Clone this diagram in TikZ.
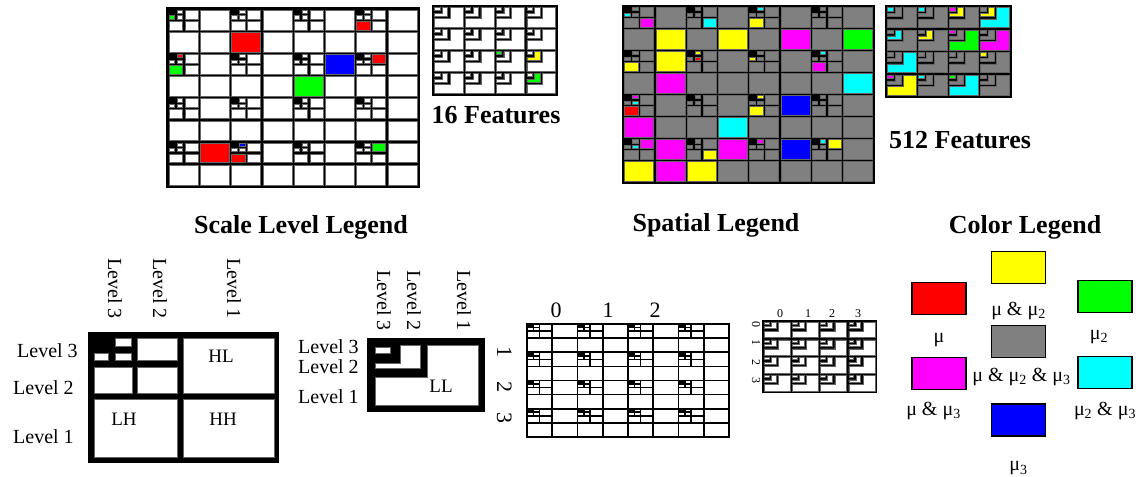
\documentclass[tikz,border=0pt]{standalone}
\usepackage{fontspec}
\setmainfont{Liberation Serif}
\usetikzlibrary{positioning}
\definecolor{mgray}{RGB}{128,128,128}
\definecolor{pred}{RGB}{255,0,0}
\definecolor{pgreen}{RGB}{0,255,0}
\definecolor{pblue}{RGB}{0,0,255}
\definecolor{pyellow}{RGB}{255,255,0}
\definecolor{pmagenta}{RGB}{255,0,255}
\definecolor{pcyan}{RGB}{0,255,255}
% gap left black between two bands
\newcommand{\gp}{1.2}
% one rectangular band: x, y, width, height, colour
\newcommand{\band}[5]{\path[band, fill=#5] ({#1+\gp},{#2+\gp}) rectangle ({#1+(#3)-\gp},{#2+(#4)-\gp});}
% one L-shaped band: the box x, y, w, h without its top-left quarter
\newcommand{\lband}[5]{\path[band, fill=#5] ({#1+(#3)/2+\gp},{#2+\gp}) -- ({#1+(#3)-\gp},{#2+\gp})
  -- ({#1+(#3)-\gp},{#2+(#4)-\gp}) -- ({#1+\gp},{#2+(#4)-\gp}) -- ({#1+\gp},{#2+(#4)/2+\gp})
  -- ({#1+(#3)/2+\gp},{#2+(#4)/2+\gp}) -- cycle;}
% one feature cell: x, y, w, h, level 1, level 2, level 3 colour
\newcommand{\lcell}[7]{\lband{#1}{#2}{#3}{#4}{#5}\lband{#1}{#2}{(#3)/2}{(#4)/2}{#6}\band{#1}{#2}{(#3)/4}{(#4)/4}{#7}}
% one three-level block of 2x2 cells: x, y, cell w, cell h, colour
\newcommand{\pyrblock}[5]{\foreach \s in {1,0.5,0.25}{%
  \band{#1+(#3)*\s}{#2}{(#3)*\s}{(#4)*\s}{#5}%
  \band{#1}{#2+(#4)*\s}{(#3)*\s}{(#4)*\s}{#5}%
  \band{#1+(#3)*\s}{#2+(#4)*\s}{(#3)*\s}{(#4)*\s}{#5}}}

\begin{document}
\begin{tikzpicture}[x=1pt, y=-1pt,
  band/.style={draw=black!60, line width=0.6pt},
  title/.style={font=\fontsize{26}{30}\selectfont\bfseries, inner sep=0pt},
  lvl/.style={font=\fontsize{20}{24}\selectfont, inner sep=0pt},
  bandlabel/.style={font=\fontsize{19}{23}\selectfont, inner sep=0pt},
  digit/.style={font=\fontsize{22}{26}\selectfont, inner sep=0pt},
  smalldigit/.style={font=\fontsize{12}{14}\selectfont, inner sep=0pt},
  swatch/.style={draw=black, line width=1.2pt, minimum width=54pt, minimum height=32pt, inner sep=0pt},
  clabel/.style={font=\fontsize{20}{24}\selectfont, inner sep=0pt},
]
\useasboundingbox (0,0) rectangle (1139,476);

% ---- pyramid of 16 features ----
\fill (166,7) rectangle (420,188);
\foreach \bx in {0,...,3} \foreach \by in {0,...,3}
  {\pyrblock{168+2*\bx*31.25}{9+2*\by*22.125}{31.25}{22.125}{white}}
\foreach \cx/\ry/\s/\qx/\qy/\cl in {2/1/1/0/0/pred, 5/2/1/0/0/pblue, 4/3/1/0/0/pgreen, 1/6/1/0/0/pred,
    6/0/0.5/0/1/pred, 0/2/0.5/0/1/pgreen, 6/2/0.5/1/0/pred, 2/6/0.5/0/1/pred, 6/6/0.5/1/0/pgreen,
    0/0/0.25/0/1/pgreen, 0/2/0.25/1/0/pred, 2/6/0.25/1/0/pblue}
  {\band{168+\cx*31.25+\qx*31.25*\s}{9+\ry*22.125+\qy*22.125*\s}{31.25*\s}{22.125*\s}{\cl}}

\fill (432,5) rectangle (558,96);
\foreach \cx in {0,...,3} \foreach \ry in {0,...,3}
  {\lcell{433.5+\cx*30.75}{6.5+\ry*22}{30.75}{22}{white}{white}{white}}
\foreach \cx/\ry/\ca/\cb/\cc in {2/2/white/white/pgreen, 3/2/white/pyellow/white, 3/3/white/pgreen/white}
  {\lcell{433.5+\cx*30.75}{6.5+\ry*22}{30.75}{22}{\ca}{\cb}{\cc}}
\node[title, anchor=base] (feat16) at (496,123) {16 Features};

% ---- pyramid of 512 features ----
\fill (622,5) rectangle (875,184);
\foreach \bx in {0,...,3} \foreach \by in {0,...,3}
  {\pyrblock{623.5+2*\bx*31.25}{6.5+2*\by*22}{31.25}{22}{mgray}}
\foreach \cx/\ry/\s/\qx/\qy/\cl in {1/1/1/0/0/pyellow, 3/1/1/0/0/pyellow, 5/1/1/0/0/pmagenta, 7/1/1/0/0/pgreen,
    1/2/1/0/0/pyellow, 1/3/1/0/0/pmagenta, 7/3/1/0/0/pcyan, 5/4/1/0/0/pblue, 0/5/1/0/0/pmagenta,
    3/5/1/0/0/pcyan, 1/6/1/0/0/pmagenta, 3/6/1/0/0/pmagenta, 5/6/1/0/0/pblue, 0/7/1/0/0/pyellow,
    1/7/1/0/0/pmagenta, 2/7/1/0/0/pyellow,
    0/0/0.5/1/1/pmagenta, 2/0/0.5/1/1/pcyan, 4/0/0.5/0/1/pyellow, 0/2/0.5/0/1/pyellow,
    6/2/0.5/0/1/pmagenta, 0/4/0.5/0/1/pred, 4/4/0.5/0/1/pyellow, 0/6/0.5/1/0/pmagenta,
    2/6/0.5/1/1/pyellow, 6/6/0.5/1/0/pyellow,
    0/0/0.25/0/1/pcyan, 4/0/0.25/1/0/pcyan, 2/2/0.25/1/0/pyellow, 2/2/0.25/1/1/pred,
    4/2/0.25/0/1/pyellow, 6/2/0.25/1/0/pcyan, 0/4/0.25/1/0/pmagenta, 0/4/0.25/1/1/pcyan,
    4/4/0.25/1/0/pyellow, 0/6/0.25/1/1/pcyan, 4/6/0.25/1/0/pmagenta, 6/6/0.25/1/0/pcyan}
  {\band{623.5+\cx*31.25+\qx*31.25*\s}{6.5+\ry*22+\qy*22*\s}{31.25*\s}{22*\s}{\cl}}

\fill (885,5) rectangle (1012,98);
\foreach \cx/\ry/\ca/\cb/\cc in {0/0/mgray/mgray/pcyan, 1/0/mgray/mgray/pcyan, 2/0/mgray/pyellow/pmagenta,
    3/0/pcyan/pyellow/mgray, 0/1/mgray/pcyan/mgray, 1/1/mgray/pyellow/mgray, 2/1/pgreen/mgray/pmagenta,
    3/1/pmagenta/mgray/mgray, 0/2/pcyan/mgray/mgray, 1/2/mgray/mgray/mgray, 2/2/mgray/mgray/mgray,
    3/2/mgray/mgray/pyellow, 0/3/pyellow/mgray/pmagenta, 1/3/mgray/mgray/pcyan, 2/3/pcyan/mgray/pgreen,
    3/3/mgray/mgray/mgray}
  {\lcell{886.5+\cx*31}{6.5+\ry*22.5}{31}{22.5}{\ca}{\cb}{\cc}}
\node[title, anchor=base] (feat512) at (960,148) {512 Features};

% ---- scale level legend ----
\node[title, anchor=base] (scaletitle) at (301,233) {Scale Level Legend};

\fill (88,332) rectangle (279,463);
\foreach \xa/\ya/\xb/\yb in {183/338/274/393, 94/399/177/457, 183/399/274/457,
    137/338/177/360, 94/367/132/393, 137/367/177/393,
    115/338/131/346, 94/353/108/360, 115/353/131/360}
  {\path[band, fill=white] (\xa,\ya) rectangle (\xb,\yb);}
\node[bandlabel, anchor=base] (hl) at (221,362) {HL};
\node[bandlabel, anchor=base] (lh) at (124,425) {LH};
\node[bandlabel, anchor=base] (hh) at (223,425) {HH};
\node[lvl, anchor=base west] (rowA3) at (17,357) {Level 3};
\node[lvl, anchor=base west] (rowA2) at (13,394) {Level 2};
\node[lvl, anchor=base west] (rowA1) at (13,443) {Level 1};
\node[lvl, rotate=-90, anchor=base west] (colA3) at (108,258) {Level 3};
\node[lvl, rotate=-90, anchor=base west] (colA2) at (153,258) {Level 2};
\node[lvl, rotate=-90, anchor=base west] (colA1) at (227,258) {Level 1};

\fill (367,338) rectangle (485,412);
\path[band, fill=white] (427,345) -- (478,345) -- (478,405) -- (375,405) -- (375,377) -- (427,377) -- cycle;
\path[band, fill=white] (400,345) -- (420,345) -- (420,368) -- (375,368) -- (375,363) -- (400,363) -- cycle;
\path[band, fill=white] (375,347) rectangle (390,353);
\node[bandlabel, anchor=base] (ll) at (441,392) {LL};
\node[lvl, anchor=base west] (rowB3) at (298,353) {Level 3};
\node[lvl, anchor=base west] (rowB2) at (298,373) {Level 2};
\node[lvl, anchor=base west] (rowB1) at (298,403) {Level 1};
\node[lvl, rotate=-90, anchor=base west] (colB3) at (377,270) {Level 3};
\node[lvl, rotate=-90, anchor=base west] (colB2) at (407,270) {Level 2};
\node[lvl, rotate=-90, anchor=base west] (colB1) at (457,270) {Level 1};

% ---- spatial legend ----
\node[title, anchor=base] (spatialtitle) at (716,231) {Spatial Legend};

\begin{scope}
  \renewcommand{\gp}{0.8}
  \tikzset{band/.style={draw=none}}
  \fill (526,323) rectangle (730,438);
  \foreach \bx in {0,...,3} \foreach \by in {0,...,3}
    {\pyrblock{527+2*\bx*25.25}{324+2*\by*14.125}{25.25}{14.125}{white}}
\end{scope}
\node[digit, anchor=base] (topA0) at (556,317) {0};
\node[digit, anchor=base] (topA1) at (608,317) {1};
\node[digit, anchor=base] (topA2) at (655,317) {2};
\node[digit, rotate=-90, anchor=base] (sideA1) at (497,352) {1};
\node[digit, rotate=-90, anchor=base] (sideA2) at (497,387) {2};
\node[digit, rotate=-90, anchor=base] (sideA3) at (497,418) {3};

\fill (762,320) rectangle (877,393);
\foreach \cx in {0,...,3} \foreach \ry in {0,...,3}
  {\lcell{763+\cx*28.25}{321+\ry*17.75}{28.25}{17.75}{white}{white}{white}}
\foreach \n/\x in {0/780, 1/808, 2/832, 3/858}
  {\node[smalldigit, anchor=base] (topB\n) at (\x,317) {\n};}
\foreach \n/\y in {0/324, 1/342, 2/362, 3/380}
  {\node[smalldigit, rotate=-90, anchor=base] (sideB\n) at (752,\y) {\n};}

% ---- color legend ----
\node[title, anchor=base] (colortitle) at (1025,233) {Color Legend};

\node[swatch, fill=pyellow] (sw-m12) at (1018.5,267.5) {};
\node[swatch, fill=pred] (sw-m1) at (939,298.5) {};
\node[swatch, fill=pgreen] (sw-m2) at (1105,296.5) {};
\node[swatch, fill=mgray] (sw-m123) at (1018.5,341.5) {};
\node[swatch, fill=pmagenta] (sw-m13) at (939,373.5) {};
\node[swatch, fill=pcyan] (sw-m23) at (1105,372.5) {};
\node[swatch, fill=pblue] (sw-m3) at (1018.5,420) {};

\node[clabel, below=18pt of sw-m12] (lb-m12) {μ \& μ\textsubscript{2}};
\node[clabel, below=18pt of sw-m1] (lb-m1) {μ};
\node[clabel, below=17pt of sw-m2, xshift=-6pt] (lb-m2) {μ\textsubscript{2}};
\node[clabel, below=10pt of sw-m123, xshift=3pt] (lb-m123) {μ \& μ\textsubscript{2} \& μ\textsubscript{3}};
\node[clabel, below=12pt of sw-m13, xshift=-5.5pt] (lb-m13) {μ \& μ\textsubscript{3}};
\node[clabel, below=13pt of sw-m23] (lb-m23) {μ\textsubscript{2} \& μ\textsubscript{3}};
\node[clabel, below=25pt of sw-m3] (lb-m3) {μ\textsubscript{3}};

\end{tikzpicture}
\end{document}
